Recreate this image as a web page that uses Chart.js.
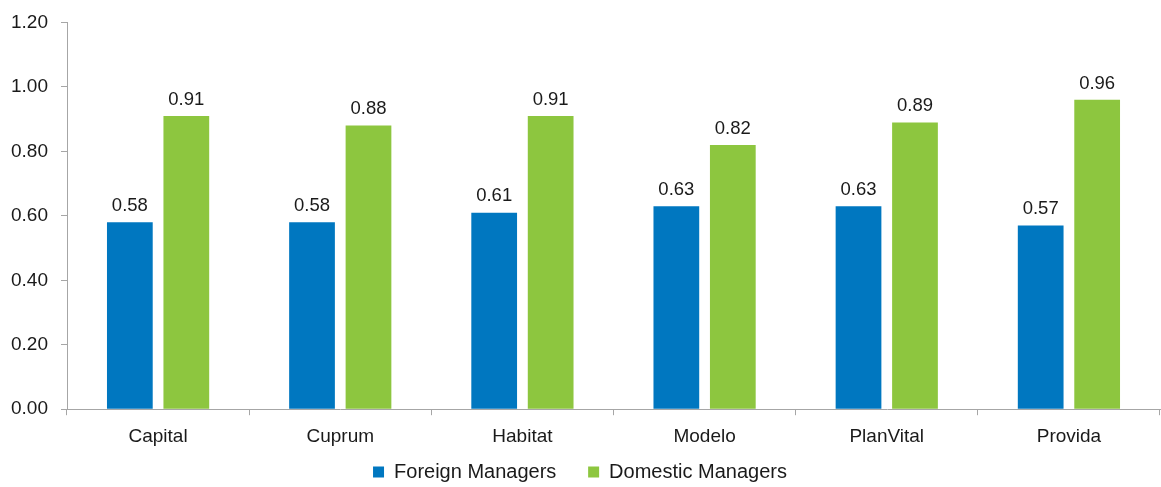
<!DOCTYPE html>
<html lang="en">
<head>
<meta charset="UTF-8">
<title>Foreign vs Domestic Managers</title>
<script src="https://cdn.jsdelivr.net/npm/chart.js"></script>
<style>
  html, body { margin: 0; padding: 0; background: #fff; }
</style>
</head>
<body>
<canvas id="chart" width="1161" height="487"></canvas>
<script>
// data
const categories = ['Capital', 'Cuprum', 'Habitat', 'Modelo', 'PlanVital', 'Provida'];
const foreignValues = [0.58, 0.58, 0.61, 0.63, 0.63, 0.57];
const domesticValues = [0.91, 0.88, 0.91, 0.82, 0.89, 0.96];
const seriesNames = ['Foreign Managers', 'Domestic Managers'];

const FONT = 'Liberation Sans, Arial, sans-serif';

// values printed above each bar
const valueLabels = {
    id: 'valueLabels',
    afterDatasetsDraw(chart) {
        const ctx = chart.ctx;
        ctx.save();
        ctx.font = '18.5px ' + FONT;
        ctx.fillStyle = '#1a1a1a';
        ctx.textAlign = 'center';
        ctx.textBaseline = 'bottom';
        chart.data.datasets.forEach((ds, i) => {
            chart.getDatasetMeta(i).data.forEach((bar, j) => {
                ctx.fillText(ds.data[j].toFixed(2), bar.x, bar.y - 7);
            });
        });
        ctx.restore();
    }
};

const ctx = document.getElementById('chart').getContext('2d');
new Chart(ctx, {
    type: 'bar',
    data: {
        labels: categories,
        datasets: [
            { label: seriesNames[0], data: foreignValues, backgroundColor: '#0077c0' },
            { label: seriesNames[1], data: domesticValues, backgroundColor: '#8dc63f' }
        ]
    },
    options: {
        responsive: false,
        animation: false,
        categoryPercentage: 0.62,
        barPercentage: 0.81,
        layout: { padding: { top: 0, right: 1, left: 0, bottom: -5 } },
        plugins: {
            tooltip: { enabled: false },
            legend: {
                position: 'bottom',
                labels: {
                    font: { size: 20, family: FONT },
                    color: '#1a1a1a',
                    boxWidth: 11,
                    boxHeight: 11,
                    padding: 4,
                    // wider gap between the two entries, as in the original
                    generateLabels(chart) {
                        const items = Chart.defaults.plugins.legend.labels.generateLabels(chart);
                        items[0].text += '     ';
                        return items;
                    }
                }
            }
        },
        scales: {
            x: {
                grid: { drawOnChartArea: false, tickLength: 6, color: '#a6a6a6' },
                border: { color: '#a6a6a6' },
                ticks: { font: { size: 19, family: FONT }, color: '#1a1a1a', padding: 10 }
            },
            y: {
                min: 0,
                max: 1.2,
                grid: { drawOnChartArea: false, tickLength: 6, color: '#a6a6a6' },
                border: { color: '#a6a6a6' },
                ticks: {
                    stepSize: 0.2,
                    font: { size: 19, family: FONT, lineHeight: 1 },
                    color: '#1a1a1a',
                    padding: 13,
                    callback: v => v.toFixed(2)
                },
                afterFit(scale) { scale.width = 67; }
            }
        }
    },
    plugins: [valueLabels]
});
</script>
</body>
</html>
